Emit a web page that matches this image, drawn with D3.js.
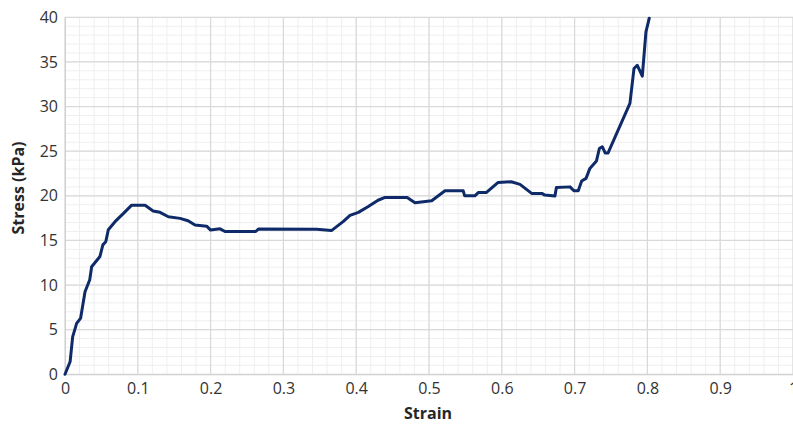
<!DOCTYPE html>
<html>
<head>
<meta charset="utf-8">
<script src="https://cdn.jsdelivr.net/npm/d3@7"></script>
<style>
  html, body { margin: 0; padding: 0; background: #fff; }
  svg { display: block; }
  text { font-family: "Open Sans", "DejaVu Sans", sans-serif; }
</style>
</head>
<body>
<svg id="chart" width="793" height="425"></svg>
<script>
// ---- Data ----
const strain = [0, 0.007, 0.0105, 0.016, 0.0215, 0.0275, 0.034, 0.0366, 0.048, 0.052, 0.056, 0.0595, 0.0687, 0.080, 0.0916, 0.110, 0.121, 0.1305, 0.142, 0.158, 0.169, 0.1786, 0.1946, 0.200, 0.213, 0.2198, 0.262, 0.2656, 0.3457, 0.366, 0.382, 0.3915, 0.403, 0.4166, 0.430, 0.4396, 0.470, 0.4808, 0.5037, 0.522, 0.547, 0.549, 0.563, 0.568, 0.579, 0.595, 0.613, 0.625, 0.641, 0.655, 0.659, 0.673, 0.675, 0.6937, 0.699, 0.705, 0.7097, 0.7157, 0.721, 0.730, 0.734, 0.738, 0.742, 0.746, 0.776, 0.7816, 0.786, 0.793, 0.798, 0.8026];
const stress = [0, 1.4, 4.2, 5.7, 6.3, 9.25, 10.6, 12.05, 13.2, 14.5, 14.85, 16.2, 17.1, 18.0, 18.95, 18.95, 18.3, 18.15, 17.65, 17.47, 17.2, 16.72, 16.6, 16.16, 16.3, 16.0, 16.0, 16.27, 16.24, 16.1, 17.1, 17.8, 18.14, 18.8, 19.5, 19.82, 19.82, 19.22, 19.44, 20.56, 20.56, 20.0, 20.0, 20.38, 20.38, 21.5, 21.57, 21.28, 20.27, 20.27, 20.08, 19.97, 20.94, 21.0, 20.56, 20.56, 21.65, 21.95, 23.07, 23.89, 25.3, 25.5, 24.8, 24.8, 30.35, 34.27, 34.63, 33.4, 38.37, 39.9];
const xTicks = [0, 0.1, 0.2, 0.3, 0.4, 0.5, 0.6, 0.7, 0.8, 0.9, 1];
const yTicks = [0, 5, 10, 15, 20, 25, 30, 35, 40];
const xMinor = d3.range(0, 1.0001, 0.02);
const yMinor = d3.range(0, 40.0001, 1);
const xTitle = "Strain";
const yTitle = "Stress (kPa)";

// ---- Layout ----
const svg = d3.select("#chart");
const pLeft = 65, pTop = 17.3, pRight = 793, pBottom = 374.3;

const x = d3.scaleLinear().domain([0, 1]).range([pLeft, pRight]);
const y = d3.scaleLinear().domain([0, 40]).range([pBottom, pTop]);

// minor grid
const g = svg.append("g");
g.append("g").selectAll("line").data(xMinor).join("line")
  .attr("x1", d => x(d)).attr("x2", d => x(d))
  .attr("y1", pTop).attr("y2", pBottom)
  .attr("stroke", "#efefef").attr("stroke-width", 1);
g.append("g").selectAll("line").data(yMinor).join("line")
  .attr("y1", d => y(d)).attr("y2", d => y(d))
  .attr("x1", pLeft).attr("x2", pRight)
  .attr("stroke", "#efefef").attr("stroke-width", 1);
// major grid
g.append("g").selectAll("line").data(xTicks).join("line")
  .attr("x1", d => x(d)).attr("x2", d => x(d))
  .attr("y1", pTop).attr("y2", pBottom)
  .attr("stroke", "#d9d9d9").attr("stroke-width", 1.2);
g.append("g").selectAll("line").data(yTicks).join("line")
  .attr("y1", d => y(d)).attr("y2", d => y(d))
  .attr("x1", pLeft).attr("x2", pRight)
  .attr("stroke", "#d9d9d9").attr("stroke-width", 1.2);

// axes
const xAxis = svg.append("g")
  .attr("transform", `translate(0,${pBottom})`)
  .call(d3.axisBottom(x).tickValues(xTicks).tickFormat(d => d3.format("")(d)).tickSize(0).tickPadding(8));
xAxis.select(".domain").attr("stroke", "#d0d0d0");
xAxis.selectAll("text").attr("font-size", 16).attr("fill", "#333")
  .attr("font-family", "'Open Sans', sans-serif");

const yAxis = svg.append("g")
  .attr("transform", `translate(${pLeft},0)`)
  .call(d3.axisLeft(y).tickValues(yTicks).tickSize(0).tickPadding(7));
yAxis.select(".domain").attr("stroke", "#d0d0d0");
yAxis.selectAll("text").attr("font-size", 16).attr("fill", "#333")
  .attr("font-family", "'Open Sans', sans-serif");

// line
const line = d3.line().x((d, i) => x(strain[i])).y((d, i) => y(stress[i]));
svg.append("path")
  .datum(stress)
  .attr("d", line)
  .attr("fill", "none")
  .attr("stroke", "#0f2a68")
  .attr("stroke-width", 3)
  .attr("stroke-linejoin", "round")
  .attr("stroke-linecap", "round");

// titles
svg.append("text")
  .attr("x", 428).attr("y", 419)
  .attr("text-anchor", "middle")
  .attr("font-size", 16).attr("font-weight", "bold").attr("fill", "#262626")
  .text(xTitle);
svg.append("text")
  .attr("transform", "translate(24,188) rotate(-90)")
  .attr("text-anchor", "middle")
  .attr("font-size", 16).attr("font-weight", "bold").attr("fill", "#262626")
  .text(yTitle);
</script>
</body>
</html>
